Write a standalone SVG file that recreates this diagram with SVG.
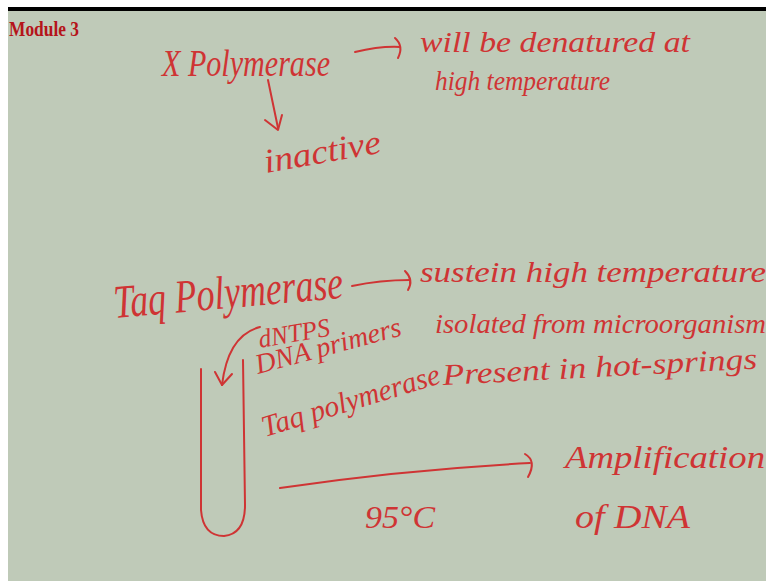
<svg xmlns="http://www.w3.org/2000/svg" width="766" height="581" viewBox="0 0 766 581">
<style>
.hw{font-family:"Liberation Serif",serif;font-style:italic;fill:#cf3434;}
.ln{fill:none;stroke:#cf3434;stroke-width:2;stroke-linecap:round;stroke-linejoin:round;}
.title{font-family:"Liberation Serif",serif;font-weight:bold;fill:#b5141a;}
</style>
<rect x="0" y="0" width="766" height="581" fill="#ffffff"/>
<rect x="8" y="10" width="758" height="571" fill="#bfcab8"/>
<rect x="8" y="7" width="758" height="4" fill="#000000"/>
<text class="title" x="9" y="36" font-size="21" textLength="70" lengthAdjust="spacingAndGlyphs">Module 3</text>

<g id="x-polymerase"><text class="hw" x="162" y="76" font-size="38" textLength="168" lengthAdjust="spacingAndGlyphs">X Polymerase</text></g>
<g id="denatured"><text class="hw" x="420" y="52" font-size="30" textLength="270" lengthAdjust="spacingAndGlyphs">will be denatured at</text>
<text class="hw" x="435" y="90" font-size="28" textLength="175" lengthAdjust="spacingAndGlyphs">high temperature</text></g>
<g id="inactive"><text class="hw" x="266" y="173" font-size="34" textLength="118" lengthAdjust="spacingAndGlyphs" transform="rotate(-10 266 173)">inactive</text></g>
<g id="taq-polymerase"><text class="hw" x="115" y="318" font-size="47" textLength="230" lengthAdjust="spacingAndGlyphs" transform="rotate(-5 115 318)">Taq Polymerase</text></g>
<g id="sustain"><text class="hw" x="420" y="282" font-size="30" textLength="346" lengthAdjust="spacingAndGlyphs">sustein high temperature</text></g>
<g id="isolated"><text class="hw" x="435" y="333" font-size="28" textLength="331" lengthAdjust="spacingAndGlyphs">isolated from microorganism</text></g>
<g id="hot-springs"><text class="hw" x="443" y="385" font-size="30" textLength="315" lengthAdjust="spacingAndGlyphs" transform="rotate(-3 443 385)">Present in hot-springs</text></g>
<g id="tube-contents">
<text class="hw" x="260" y="348" font-size="26" textLength="72" lengthAdjust="spacingAndGlyphs" transform="rotate(-10 260 348)">dNTPS</text>
<text class="hw" x="258" y="374" font-size="28" textLength="150" lengthAdjust="spacingAndGlyphs" transform="rotate(-15 258 374)">DNA primers</text>
<text class="hw" x="265" y="437" font-size="30" textLength="185" lengthAdjust="spacingAndGlyphs" transform="rotate(-17 265 437)">Taq polymerase</text>
</g>
<g id="tube"><path class="ln" d="M201,369 L201,510 Q203,536 224,536 Q245,534 245,505 L243,360"/></g>
<g id="amplification"><text class="hw" x="565" y="468" font-size="32" textLength="200" lengthAdjust="spacingAndGlyphs">Amplification</text>
<text class="hw" x="575" y="528" font-size="34" textLength="115" lengthAdjust="spacingAndGlyphs">of DNA</text></g>
<g id="temp"><text class="hw" x="365" y="528" font-size="32" textLength="70" lengthAdjust="spacingAndGlyphs">95°C</text></g>

<g id="connectors">
<path class="ln" d="M355,52 Q380,46 400,47"/><path class="ln" d="M395,38 Q404,46 398,58"/>
<path class="ln" d="M268,80 L278,128"/><path class="ln" d="M265,120 L278,130 L282,115"/>
<path class="ln" d="M352,286 Q380,280 410,280"/><path class="ln" d="M405,271 Q414,280 408,290"/>
<path class="ln" d="M260,327 Q228,335 222,385"/><path class="ln" d="M215,372 L222,385 L232,374"/>
<path class="ln" d="M280,488 Q400,470 530,463"/><path class="ln" d="M525,454 Q537,461 528,477"/>
</g>
</svg>
